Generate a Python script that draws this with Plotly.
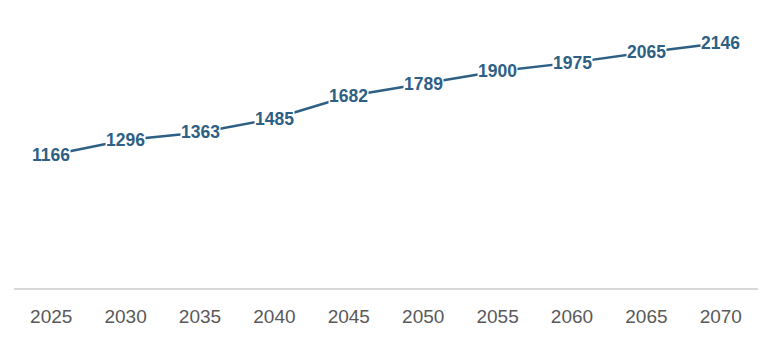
import plotly.graph_objects as go

years = ["2025", "2030", "2035", "2040", "2045", "2050", "2055", "2060", "2065", "2070"]
values = [1166, 1296, 1363, 1485, 1682, 1789, 1900, 1975, 2065, 2146]

color = "#2e5f85"

fig = go.Figure()
fig.add_trace(go.Scatter(
    x=years, y=values, mode="lines",
    line=dict(color=color, width=2.5),
    hoverinfo="skip",
))

for i, v in enumerate(values):
    fig.add_annotation(
        x=i, y=v, xref="x", yref="y", text="<b>%d</b>" % v, showarrow=False,
        bgcolor="white", borderpad=0,
        font=dict(family="Liberation Sans, Arial, sans-serif", size=17.5, color=color),
        xanchor="center", yanchor="middle",
    )

fig.update_layout(
    width=764, height=344,
    margin=dict(l=14, r=6, t=5, b=56),
    paper_bgcolor="white", plot_bgcolor="white",
    showlegend=False,
    font=dict(family="Liberation Sans, Arial, sans-serif"),
    xaxis=dict(
        type="category", range=[-0.5, 9.5],
        showline=True, linecolor="#d9d9d9", linewidth=1.5,
        showgrid=False, zeroline=False,
        ticks="outside", ticklen=10, tickcolor="rgba(0,0,0,0)",
        tickfont=dict(size=19, color="#595959"),
    ),
    yaxis=dict(range=[0, 2480], visible=False, showgrid=False, zeroline=False),
)

fig.write_html("out.html")
